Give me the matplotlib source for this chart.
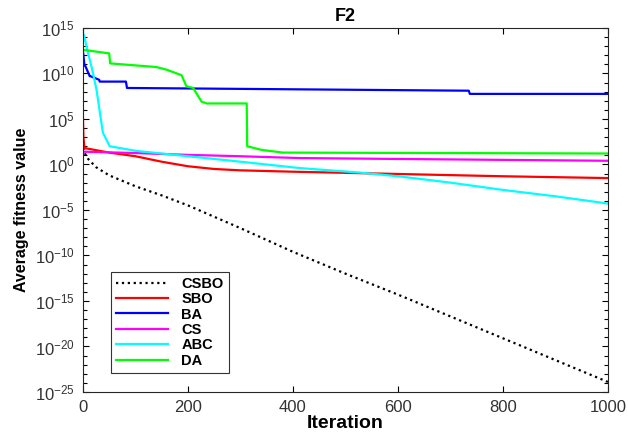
import numpy as np
import matplotlib
matplotlib.use("Agg")
from matplotlib import pyplot as plt
from matplotlib.ticker import FixedLocator, NullFormatter

plt.rcParams["font.family"] = ["Liberation Sans", "DejaVu Sans"]
plt.rcParams["mathtext.fontset"] = "custom"
plt.rcParams["mathtext.rm"] = "Liberation Sans"
plt.rcParams["mathtext.default"] = "regular"

# log10 of the average fitness
csbo_it = [0, 3, 10, 25, 50, 100, 150, 200, 300, 400, 500, 600, 700, 800, 900, 1000]
csbo_lg = [2.5, 1.3, 0.6, -0.3, -1.2, -2.4, -3.4, -4.5, -7.0, -9.6, -12.0, -14.3, -16.7, -19.1, -21.5, -23.9]

sbo_it = [0, 1, 3, 50, 100, 150, 200, 250, 300, 400, 600, 800, 1000]
sbo_lg = [5.4, 3.0, 1.8, 1.3, 0.9, 0.3, -0.2, -0.5, -0.65, -0.8, -1.05, -1.3, -1.5]

ba_it = [0, 3, 4, 13, 14, 31, 32, 82, 84, 735, 737, 1000]
ba_lg = [12.5, 10.9, 10.9, 9.7, 9.7, 9.3, 9.1, 9.1, 8.4, 8.1, 7.75, 7.75]

cs_it = [0, 100, 200, 300, 413, 600, 800, 1000]
cs_lg = [1.4, 1.25, 1.05, 0.9, 0.7, 0.6, 0.5, 0.4]

abc_it = [0, 2, 10, 17, 26, 38, 51, 100, 200, 300, 413, 528, 600, 700, 800, 900, 1000]
abc_lg = [14.4, 14.2, 12.2, 10.6, 8.2, 3.5, 2.0, 1.5, 0.9, 0.3, -0.4, -0.9, -1.3, -2.0, -2.8, -3.5, -4.3]

da_it = [0, 50, 52, 140, 160, 188, 197, 210, 226, 236, 312, 313, 340, 381, 1000]
da_lg = [12.6, 12.2, 11.1, 10.7, 10.4, 9.8, 8.6, 8.4, 6.9, 6.7, 6.7, 2.0, 1.6, 1.3, 1.2]

fig = plt.figure(figsize=(6.28, 4.36), dpi=100)
ax = fig.add_axes([0.132, 0.101, 0.836, 0.835])

ax.plot(csbo_it, 10.0 ** np.array(csbo_lg), ":", color="black", lw=1.6, label="CSBO")
ax.plot(sbo_it, 10.0 ** np.array(sbo_lg), color="red", lw=1.6, label="SBO")
ax.plot(ba_it, 10.0 ** np.array(ba_lg), color="blue", lw=1.6, label="BA")
ax.plot(cs_it, 10.0 ** np.array(cs_lg), color="magenta", lw=1.6, label="CS")
ax.plot(abc_it, 10.0 ** np.array(abc_lg), color="cyan", lw=1.6, label="ABC")
ax.plot(da_it, 10.0 ** np.array(da_lg), color="#00ff00", lw=1.6, label="DA")

ax.set_yscale("log")
ax.set_xlim(0, 1000)
ax.set_ylim(1e-25, 1e15)
ax.set_xticks([0, 200, 400, 600, 800, 1000])
ax.set_yticks([10.0 ** k for k in range(-25, 16, 5)])
ax.yaxis.set_minor_locator(FixedLocator([10.0 ** k for k in range(-25, 16)]))
ax.yaxis.set_minor_formatter(NullFormatter())
ax.tick_params(which="both", direction="in", top=True, right=True, labelsize=12,
               labelcolor="#333333", width=0.8)
ax.tick_params(which="major", length=4, pad=6)
ax.tick_params(which="minor", length=3)
for s in ax.spines.values():
    s.set_color("#262626")

ax.set_title("F2", fontweight="bold", fontsize=13, pad=5)
ax.set_xlabel("Iteration", fontweight="bold", fontsize=14, labelpad=0)
ax.set_ylabel("Average fitness value", fontweight="bold", fontsize=11.5, labelpad=4)

leg = ax.legend(loc="lower left", bbox_to_anchor=(0.053, 0.052), borderaxespad=0,
                prop={"weight": "bold", "size": 10.5},
                fancybox=False, edgecolor="#333333", handlelength=3.6, handletextpad=0.9,
                labelspacing=0.1, borderpad=0.35, framealpha=1)
leg.get_frame().set_linewidth(0.8)

fig.savefig("out.png", dpi=100)
